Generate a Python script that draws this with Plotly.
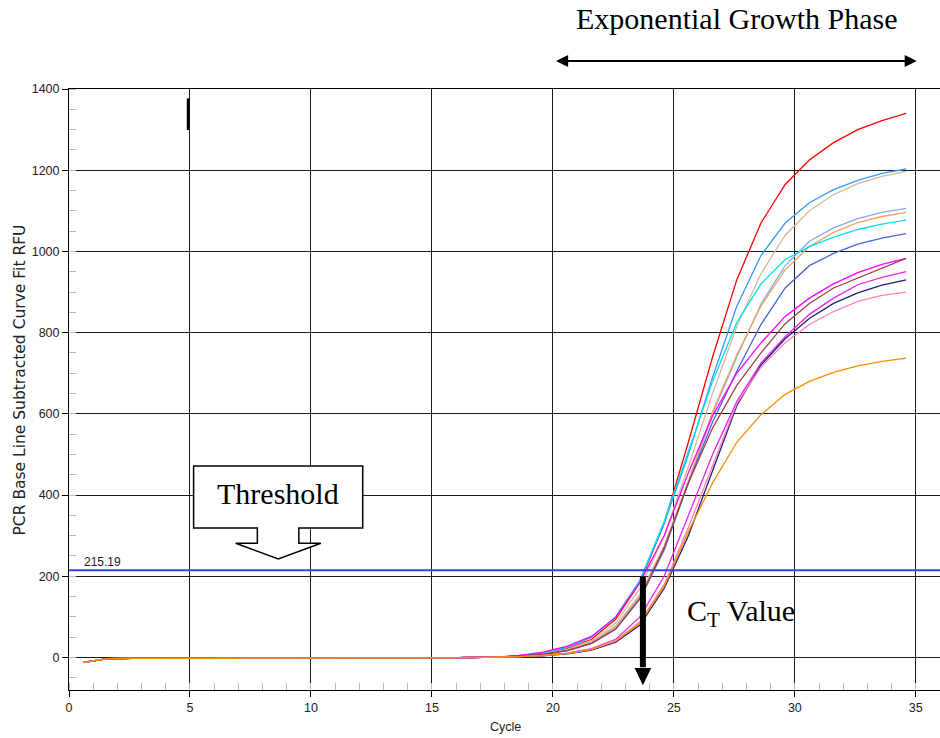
import plotly.graph_objects as go

# ---------------- data ----------------
cycles = [0.6, 1.6, 2.6, 3.6, 4.6, 5.6, 6.6, 7.6, 8.6, 9.6, 10.6, 11.6, 12.6, 13.6, 14.6, 15.6, 16.6, 17.6,
          18.6, 19.6, 20.6, 21.6, 22.6, 23.6, 24.6, 25.6, 26.6, 27.6, 28.6, 29.6, 30.6, 31.6, 32.6, 33.6, 34.6]

# cycles 0.6 .. 17.6 (flat baseline, shared by all wells)
baseline_rfu = [-12, -3, -2, -2, -2, -2, -2, -2, -2, -2, -2, -2, -2, -2, -2, -1, 0, 1]

# cycles 18.6 .. 34.6 per well
red_rfu      = [4, 10, 22, 45, 95, 185, 330, 530, 740, 930, 1070, 1165, 1225, 1268, 1300, 1322, 1340]
blue_rfu     = [4, 11, 25, 50, 100, 190, 330, 500, 690, 865, 990, 1070, 1120, 1152, 1175, 1192, 1203]
tan_rfu      = [3, 9, 20, 42, 85, 170, 300, 470, 650, 815, 945, 1040, 1100, 1140, 1167, 1185, 1197]
lightblue_rfu = [3, 8, 18, 38, 75, 150, 270, 430, 600, 740, 870, 965, 1025, 1058, 1081, 1096, 1106]
sandy_rfu    = [3, 8, 18, 38, 78, 155, 275, 435, 605, 745, 865, 955, 1012, 1047, 1071, 1086, 1096]
cyan_rfu     = [4, 12, 27, 52, 100, 190, 335, 510, 680, 825, 920, 980, 1012, 1035, 1054, 1067, 1077]
royal_rfu    = [3, 8, 17, 35, 70, 145, 265, 430, 580, 705, 820, 910, 965, 995, 1018, 1033, 1044]
magenta_rfu  = [5, 13, 28, 52, 100, 185, 300, 455, 595, 700, 775, 840, 885, 920, 948, 968, 983]
brown_rfu    = [3, 8, 17, 35, 70, 145, 270, 430, 565, 670, 750, 822, 872, 910, 935, 960, 983]
magenta2_rfu = [2, 5, 11, 22, 45, 100, 200, 350, 500, 630, 725, 790, 845, 885, 918, 936, 950]
navy_rfu     = [2, 4, 9, 18, 38, 80, 170, 300, 460, 620, 720, 785, 835, 872, 898, 917, 930]
pink_rfu     = [2, 5, 10, 20, 42, 88, 180, 320, 470, 625, 715, 775, 820, 852, 877, 892, 900]
orange_rfu   = [2, 5, 10, 20, 40, 85, 175, 310, 430, 530, 598, 648, 680, 702, 718, 729, 737]

well_series = [red_rfu, blue_rfu, tan_rfu, lightblue_rfu, sandy_rfu, cyan_rfu, royal_rfu,
               magenta_rfu, brown_rfu, magenta2_rfu, navy_rfu, pink_rfu, orange_rfu]
well_colors = ["#FF0000", "#3399FF", "#D9B99B", "#88A8F0", "#F4A460", "#00E0F0", "#4466DD",
               "#FF00FF", "#A0404A", "#EE22EE", "#202070", "#FF80C0", "#FF8C00"]

threshold = 215.19
ct_value = 23.72
x_tick_vals = [0, 5, 10, 15, 20, 25, 30, 35]
y_tick_vals = [0, 200, 400, 600, 800, 1000, 1200, 1400]
x_range = [0, 36]
y_range = [-80, 1400]

# ---------------- figure ----------------
fig = go.Figure()
for vals, col in zip(well_series, well_colors):
    fig.add_trace(go.Scatter(x=cycles, y=baseline_rfu + vals, mode="lines",
                             line=dict(color=col, width=1.3), showlegend=False,
                             hoverinfo="skip"))

tickfont = dict(family="Liberation Sans, Arial, sans-serif", size=12.5, color="#222")
fig.update_xaxes(range=x_range, tickmode="array", tickvals=x_tick_vals,
                 ticks="outside", ticklen=6, tickcolor="#000", tickwidth=1,
                 showgrid=True, gridcolor="#1a1a1a", gridwidth=1,
                 showline=True, linecolor="#000", linewidth=1, mirror=True,
                 zeroline=False, tickfont=tickfont,
                 minor=dict(dtick=1, tick0=0, ticks="inside", ticklen=7,
                            tickcolor="#bbbbbb", showgrid=False))
fig.update_yaxes(range=y_range, tickmode="array", tickvals=y_tick_vals,
                 ticks="outside", ticklen=6, tickcolor="#000", tickwidth=1,
                 showgrid=True, gridcolor="#1a1a1a", gridwidth=1,
                 showline=True, linecolor="#000", linewidth=1,
                 zeroline=False, tickfont=tickfont,
                 minor=dict(dtick=50, tick0=0, ticks="inside", ticklen=7,
                            tickcolor="#bbbbbb", showgrid=False))

serif = "Liberation Serif, Times New Roman, serif"

shapes = []
# threshold line
shapes.append(dict(type="line", xref="x", yref="y", x0=x_range[0], x1=x_range[1],
                   y0=threshold, y1=threshold, line=dict(color="#3340EE", width=2)))
# cursor bar near top
shapes.append(dict(type="line", xref="x", yref="y", x0=4.92, x1=4.92, y0=1299, y1=1377,
                   line=dict(color="#000", width=2.5)))
# Threshold callout box with arrow
bx0, bx1, by0, by1 = 5.15, 12.14, 319, 471.7
sx0, sx1, sy = 7.785, 9.50, 281.3
ox0, ox1, tipx, tipy = 6.89, 10.41, 8.65, 242.6
callout = (f"M {bx0},{by1} L {bx1},{by1} L {bx1},{by0} L {sx1},{by0} L {sx1},{sy} "
           f"L {ox1},{sy} L {tipx},{tipy} L {ox0},{sy} L {sx0},{sy} L {sx0},{by0} "
           f"L {bx0},{by0} Z")
shapes.append(dict(type="path", xref="x", yref="y", path=callout, fillcolor="white",
                   line=dict(color="#000", width=1.5), layer="above"))
# CT arrow
ct_top, ct_head, ct_tip, ct_hw = 200, -26, -68, 0.343
shapes.append(dict(type="line", xref="x", yref="y", x0=ct_value, x1=ct_value,
                   y0=ct_top, y1=ct_head + 2, line=dict(color="#000", width=6)))
shapes.append(dict(type="path", xref="x", yref="y",
                   path=f"M {ct_value - ct_hw},{ct_head} L {ct_value + ct_hw},{ct_head} L {ct_value},{ct_tip} Z",
                   fillcolor="#000", line=dict(color="#000", width=0)))
# Exponential growth double arrow (paper coords)
ax_left, ax_right = 20.13 / 36, 35.04 / 36
ay = 1.0466
hl, hw = 0.5 / 36, 0.0100
shapes.append(dict(type="line", xref="paper", yref="paper", x0=ax_left + hl * 0.8, x1=ax_right - hl * 0.8,
                   y0=ay, y1=ay, line=dict(color="#000", width=2)))
shapes.append(dict(type="path", xref="paper", yref="paper",
                   path=f"M {ax_left},{ay} L {ax_left + hl},{ay + hw} L {ax_left + hl},{ay - hw} Z",
                   fillcolor="#000", line=dict(color="#000", width=0)))
shapes.append(dict(type="path", xref="paper", yref="paper",
                   path=f"M {ax_right},{ay} L {ax_right - hl},{ay + hw} L {ax_right - hl},{ay - hw} Z",
                   fillcolor="#000", line=dict(color="#000", width=0)))

annotations = [
    dict(text="Exponential Growth Phase", xref="x", yref="paper", x=27.63, y=1.1173,
         xanchor="center", yanchor="middle", showarrow=False,
         font=dict(family=serif, size=30, color="#000")),
    dict(text="Threshold", xref="x", yref="y", x=8.64, y=404,
         xanchor="center", yanchor="middle", showarrow=False,
         font=dict(family=serif, size=30, color="#000")),
    dict(text="C<sub>T</sub> Value", xref="x", yref="y", x=25.44, y=110,
         xanchor="left", yanchor="middle", showarrow=False,
         font=dict(family=serif, size=30, color="#000")),
    dict(text=f"{threshold:.2f}", xref="x", yref="y", x=0.55, y=235,
         xanchor="left", yanchor="middle", showarrow=False,
         font=dict(family="Liberation Sans, Arial, sans-serif", size=12, color="#222")),
    dict(text="PCR Base Line Subtracted Curve Fit RFU", xref="paper", yref="paper",
         x=-0.0563, y=0.5166, textangle=-90, xanchor="center", yanchor="middle",
         showarrow=False, font=dict(family="DejaVu Sans, sans-serif", size=15.5, color="#222")),
    dict(text="Cycle", xref="paper", yref="paper", x=0.5017, y=-0.0616,
         xanchor="center", yanchor="middle", showarrow=False,
         font=dict(family="Liberation Sans, Arial, sans-serif", size=12.5, color="#222")),
]

fig.update_layout(width=940, height=738, margin=dict(l=69, r=0, t=89, b=48),
                  plot_bgcolor="white", paper_bgcolor="white",
                  shapes=shapes, annotations=annotations, showlegend=False)

fig.write_html("out.html")
